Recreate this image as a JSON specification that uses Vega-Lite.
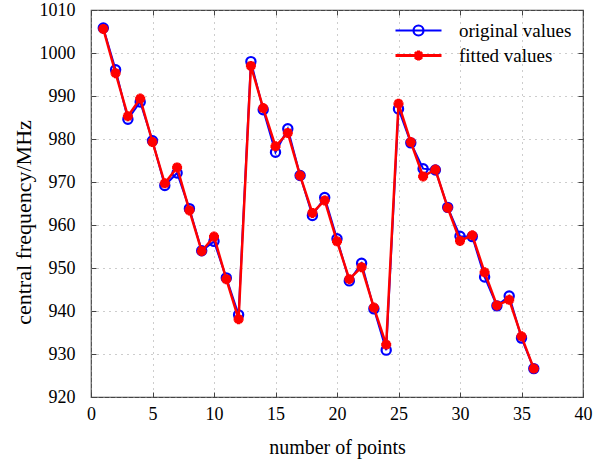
{
  "$schema": "https://vega.github.io/schema/vega-lite/v6.json",
  "width": 492,
  "height": 387,
  "autosize": {"type": "none"},
  "padding": {"left": 91, "top": 10, "right": 13, "bottom": 74},
  "background": "white",
  "config": {
    "view": {"stroke": "#444444", "strokeWidth": 1.2},
    "font": "Liberation Serif",
    "axis": {
      "labelFont": "Liberation Serif",
      "titleFont": "Liberation Serif",
      "labelColor": "#000000",
      "titleColor": "#000000",
      "titleFontWeight": "normal",
      "labelFontSize": 18,
      "domain": false,
      "tickColor": "#444444",
      "tickSize": -5,
      "grid": true,
      "gridColor": "#9a9a9a",
      "gridDash": [1, 5],
      "gridWidth": 1
    },
    "legend": {
      "labelFont": "Liberation Serif",
      "labelFontSize": 19,
      "labelColor": "#000000"
    }
  },
  "resolve": {"axis": {"x": "independent", "y": "independent"}},
  "data": {
    "values": [
      {"n": 1, "series": "original values", "value": 1005.8},
      {"n": 2, "series": "original values", "value": 996.1},
      {"n": 3, "series": "original values", "value": 984.6},
      {"n": 4, "series": "original values", "value": 988.6},
      {"n": 5, "series": "original values", "value": 979.6},
      {"n": 6, "series": "original values", "value": 969.2},
      {"n": 7, "series": "original values", "value": 972.1},
      {"n": 8, "series": "original values", "value": 963.8},
      {"n": 9, "series": "original values", "value": 954.0},
      {"n": 10, "series": "original values", "value": 956.2},
      {"n": 11, "series": "original values", "value": 947.7},
      {"n": 12, "series": "original values", "value": 939.1},
      {"n": 13, "series": "original values", "value": 998.0},
      {"n": 14, "series": "original values", "value": 986.8},
      {"n": 15, "series": "original values", "value": 976.9},
      {"n": 16, "series": "original values", "value": 982.4},
      {"n": 17, "series": "original values", "value": 971.5},
      {"n": 18, "series": "original values", "value": 962.2},
      {"n": 19, "series": "original values", "value": 966.4},
      {"n": 20, "series": "original values", "value": 956.8},
      {"n": 21, "series": "original values", "value": 947.0},
      {"n": 22, "series": "original values", "value": 951.1},
      {"n": 23, "series": "original values", "value": 940.5},
      {"n": 24, "series": "original values", "value": 930.9},
      {"n": 25, "series": "original values", "value": 987.0},
      {"n": 26, "series": "original values", "value": 979.1},
      {"n": 27, "series": "original values", "value": 973.1},
      {"n": 28, "series": "original values", "value": 972.8},
      {"n": 29, "series": "original values", "value": 964.1},
      {"n": 30, "series": "original values", "value": 957.4},
      {"n": 31, "series": "original values", "value": 957.3},
      {"n": 32, "series": "original values", "value": 947.9},
      {"n": 33, "series": "original values", "value": 941.2},
      {"n": 34, "series": "original values", "value": 943.5},
      {"n": 35, "series": "original values", "value": 933.7},
      {"n": 36, "series": "original values", "value": 926.6},
      {"n": 1, "series": "fitted values", "value": 1005.6},
      {"n": 2, "series": "fitted values", "value": 995.3},
      {"n": 3, "series": "fitted values", "value": 985.3},
      {"n": 4, "series": "fitted values", "value": 989.4},
      {"n": 5, "series": "fitted values", "value": 979.3},
      {"n": 6, "series": "fitted values", "value": 969.7},
      {"n": 7, "series": "fitted values", "value": 973.4},
      {"n": 8, "series": "fitted values", "value": 963.4},
      {"n": 9, "series": "fitted values", "value": 953.9},
      {"n": 10, "series": "fitted values", "value": 957.3},
      {"n": 11, "series": "fitted values", "value": 947.4},
      {"n": 12, "series": "fitted values", "value": 938.1},
      {"n": 13, "series": "fitted values", "value": 997.0},
      {"n": 14, "series": "fitted values", "value": 987.2},
      {"n": 15, "series": "fitted values", "value": 978.3},
      {"n": 16, "series": "fitted values", "value": 981.4},
      {"n": 17, "series": "fitted values", "value": 971.5},
      {"n": 18, "series": "fitted values", "value": 962.8},
      {"n": 19, "series": "fitted values", "value": 965.7},
      {"n": 20, "series": "fitted values", "value": 956.2},
      {"n": 21, "series": "fitted values", "value": 947.4},
      {"n": 22, "series": "fitted values", "value": 950.2},
      {"n": 23, "series": "fitted values", "value": 940.8},
      {"n": 24, "series": "fitted values", "value": 932.2},
      {"n": 25, "series": "fitted values", "value": 988.2},
      {"n": 26, "series": "fitted values", "value": 979.3},
      {"n": 27, "series": "fitted values", "value": 971.3},
      {"n": 28, "series": "fitted values", "value": 972.9},
      {"n": 29, "series": "fitted values", "value": 964.0},
      {"n": 30, "series": "fitted values", "value": 956.3},
      {"n": 31, "series": "fitted values", "value": 957.6},
      {"n": 32, "series": "fitted values", "value": 949.0},
      {"n": 33, "series": "fitted values", "value": 941.3},
      {"n": 34, "series": "fitted values", "value": 942.6},
      {"n": 35, "series": "fitted values", "value": 934.1},
      {"n": 36, "series": "fitted values", "value": 926.6}
    ]
  },
  "layer": [
    {
      "transform": [{"filter": "datum.series === 'original values'"}],
      "mark": {"type": "line", "strokeWidth": 2},
      "encoding": {
        "x": {
          "field": "n", "type": "quantitative",
          "scale": {"domain": [0, 40], "nice": false, "zero": false},
          "axis": {"values": [0, 5, 10, 15, 20, 25, 30, 35, 40], "format": "d", "title": "number of points", "titleFontSize": 20, "labelPadding": 13, "titlePadding": 14, "labelFlush": false}
        },
        "y": {
          "field": "value", "type": "quantitative",
          "scale": {"domain": [920, 1010], "nice": false, "zero": false},
          "axis": {"values": [920, 930, 940, 950, 960, 970, 980, 990, 1000, 1010], "format": "d", "title": "central frequency/MHz", "titleFontSize": 22, "labelPadding": 21, "titlePadding": 4, "labelFlush": false, "titleY": 212}
        },
        "color": {
          "field": "series", "type": "nominal",
          "scale": {"domain": ["original values", "fitted values"], "range": ["#0000ff", "#ff0000"]},
          "legend": {
            "title": null,
            "orient": "top-right",
            "offset": 11,
            "symbolSize": 100,
            "symbolStrokeWidth": 2.2,
            "labelOffset": 31,
            "rowPadding": 3,
            "encode": {
              "symbols": {
                "update": {
                  "shape": {"signal": "datum.value === 'original values' ? 'M-4.6,0H4.6M-1,0A1,1 0 1,0 1,0A1,1 0 1,0 -1,0' : 'M-4.6,0H4.6M-1,0H1M0,-1V1M-0.7,-0.7L0.7,0.7M-0.7,0.7L0.7,-0.7'"},
                  "strokeWidth": {"signal": "datum.value === 'original values' ? 2.2 : 3"},
                  "fill": {"value": "transparent"}
                }
              }
            }
          }
        }
      }
    },
    {
      "transform": [{"filter": "datum.series === 'original values'"}],
      "mark": {"type": "point", "shape": "circle", "size": 85, "stroke": "#0000ff", "strokeWidth": 2.2, "filled": false, "opacity": 1},
      "encoding": {
        "x": {"field": "n", "type": "quantitative", "axis": null},
        "y": {"field": "value", "type": "quantitative", "axis": null}
      }
    },
    {
      "transform": [{"filter": "datum.series === 'fitted values'"}],
      "mark": {"type": "line", "strokeWidth": 2.5},
      "encoding": {
        "x": {"field": "n", "type": "quantitative", "axis": null},
        "y": {"field": "value", "type": "quantitative", "axis": null},
        "color": {"field": "series", "type": "nominal", "legend": null}
      }
    },
    {
      "transform": [{"filter": "datum.series === 'fitted values'"}],
      "mark": {"type": "point", "shape": "M-1,0H1M0,-1V1M-0.7,-0.7L0.7,0.7M-0.7,0.7L0.7,-0.7", "size": 100, "stroke": "#ff0000", "strokeWidth": 3.2, "filled": false, "opacity": 1},
      "encoding": {
        "x": {"field": "n", "type": "quantitative", "axis": null},
        "y": {"field": "value", "type": "quantitative", "axis": null}
      }
    },
    {
      "transform": [{"filter": "datum.series === 'fitted values'"}],
      "mark": {"type": "point", "opacity": 0},
      "encoding": {
        "x": {"field": "n", "type": "quantitative", "axis": {"orient": "top", "values": [0, 5, 10, 15, 20, 25, 30, 35, 40], "labels": false, "title": null, "grid": false}},
        "y": {"field": "value", "type": "quantitative", "axis": {"orient": "right", "values": [920, 930, 940, 950, 960, 970, 980, 990, 1000, 1010], "labels": false, "title": null, "grid": false}}
      }
    }
  ]
}
